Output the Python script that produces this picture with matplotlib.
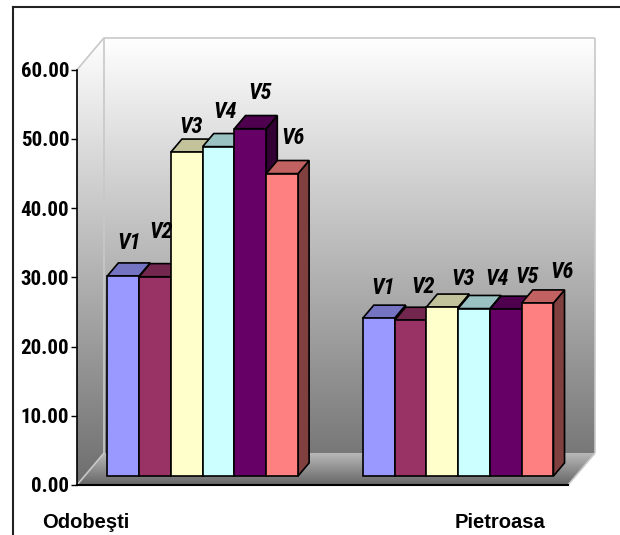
import numpy as np
import matplotlib
matplotlib.use("Agg")
import matplotlib.pyplot as plt
from matplotlib import font_manager
from matplotlib.font_manager import FontProperties
from matplotlib.patches import Polygon
from matplotlib.colors import to_rgb
from matplotlib.lines import Line2D

# ---- data ----
groups = ["Odobeşti", "Pietroasa"]
series = ["V1", "V2", "V3", "V4", "V5", "V6"]
odobesti = [28.9, 28.8, 46.8, 47.6, 50.2, 43.7]
pietroasa = [22.8, 22.5, 24.4, 24.2, 24.1, 25.0]
values = [odobesti, pietroasa]
yticks = [0, 10, 20, 30, 40, 50, 60]

colors = ["#9999FF", "#993366", "#FFFFCC", "#CCFFFF", "#660066", "#FF8080"]

# label nudges (pixels) for the series-name labels above each bar
label_nudge = [
    [(0, 26), (0, 38), (-1, 19), (1, 28), (4.5, 29), (5, 29)],
    [(-1.5, 23.5), (7.5, 27), (15.5, 22), (17.5, 23), (15.5, 26), (18.5, 24)],
]


# ---- fonts: prefer a narrow bold face (Roboto Condensed / Liberation Sans Narrow) ----
def find_narrow(italic):
    best = None
    for f in font_manager.fontManager.ttflist:
        tag = (f.name + " " + str(f.fname)).lower()
        if "liberation" in tag and "narrow" in tag:
            rank = 0
        elif "roboto" in tag and "condensed" in tag:
            rank = 1
        else:
            continue
        w = f.weight if isinstance(f.weight, int) else (700 if "bold" in str(f.weight) else 400)
        if w < 600 or w > 800:
            continue
        is_it = f.style in ("italic", "oblique")
        if is_it != italic:
            continue
        if best is None or rank < best[0] or (rank == best[0] and abs(w - 700) < best[2]):
            best = (rank, f.fname, abs(w - 700))
    return best[1] if best else None


narrow_path = find_narrow(False)
narrow_it_path = find_narrow(True)


def tick_font(size):
    if narrow_path:
        return FontProperties(fname=narrow_path, size=size)
    return FontProperties(family="Liberation Sans", weight="bold", size=size * 0.86)


def label_font(size):
    if narrow_it_path:
        return FontProperties(fname=narrow_it_path, size=size)
    return FontProperties(family="Liberation Sans", weight="bold", style="italic",
                          size=size * 0.86)


# ---- 3D oblique projection settings ----
W, H, DPI = 620, 535, 100
X0_PX, Y0_PX = 77.0, 485.0          # front-left floor corner
PX_PER_CAT = 245.5                  # pixels per category unit
PX_PER_VAL = 6.92                   # pixels per value unit
DX = 27.0 / PX_PER_CAT              # depth offset in x (full depth)
DY = 32.0 / PX_PER_VAL              # depth offset in y (full depth)
ZF, ZB = 0.28, 0.69                 # bar front / back depth
BW = 0.1295                         # bar width (category units)
group_left = [0.0925, 1.133]
YMAX = 60


def proj(x, v, z):
    return (x + z * DX, v + z * DY)


fig = plt.figure(figsize=(W / DPI, H / DPI), dpi=DPI)
ax = fig.add_axes([0, 0, 1, 1])
ax.set_xlim(-X0_PX / PX_PER_CAT, (W - X0_PX) / PX_PER_CAT)
ax.set_ylim((Y0_PX - H) / PX_PER_VAL, Y0_PX / PX_PER_VAL)
ax.patch.set_visible(False)

# ---- walls (side + back) with vertical grey gradient ----
wall_poly = [proj(0, 0, 0), proj(0, YMAX, 0), proj(0, YMAX, 1),
             proj(2, YMAX, 1), proj(2, 0, 1), proj(0, 0, 1)]
wall_patch = Polygon(wall_poly, closed=True, facecolor="none", edgecolor="none")
ax.add_patch(wall_patch)
ytop = YMAX + DY
grad = np.linspace(0, 1, 256).reshape(-1, 1)
vv = grad * ytop
g = (120 + (255 - 120) * (vv - DY) / (ytop - DY)) / 255.0
g = np.clip(g, 0, 1)
img = np.dstack([g, g, g])
im = ax.imshow(img, extent=(0, 2 + DX, 0, ytop), origin="lower",
               aspect="auto", interpolation="bilinear", zorder=0.5)
im.set_clip_path(wall_patch)

# ---- floor ----
floor_poly = [proj(0, 0, 0), proj(2, 0, 0), proj(2, 0, 1), proj(0, 0, 1)]
floor_patch = Polygon(floor_poly, closed=True, facecolor="none", edgecolor="none")
ax.add_patch(floor_patch)
fg = np.linspace(102, 184, 64).reshape(-1, 1) / 255.0
fimg = np.dstack([fg, fg, fg])
fim = ax.imshow(fimg, extent=(0, 2 + DX, 0, DY), origin="lower",
                aspect="auto", interpolation="bilinear", zorder=0.6)
fim.set_clip_path(floor_patch)

# wall / floor edges
edge_c = "#c8c8c8"
for a, b in [((0, YMAX, 0), (0, YMAX, 1)), ((0, YMAX, 1), (2, YMAX, 1)),
             ((2, YMAX, 1), (2, 0, 1)), ((0, YMAX, 1), (0, 0, 1)),
             ((0, 0, 0), (0, 0, 1)), ((2, 0, 0), (2, 0, 1))]:
    p, q = proj(*a), proj(*b)
    ax.plot([p[0], q[0]], [p[1], q[1]], color=edge_c, lw=1.2, zorder=0.8,
            solid_capstyle="butt")


# ---- bars ----
def shade(c, f):
    r, gg, b = to_rgb(c)
    return (r * f, gg * f, b * f)


lab_fp = label_font(16)
for gi, vals in enumerate(values):
    for si, v in enumerate(vals):
        xl = group_left[gi] + si * BW
        xr = xl + BW
        col = colors[si]
        z = 2 + si * 0.01
        side = [proj(xr, 0, ZF), proj(xr, 0, ZB), proj(xr, v, ZB), proj(xr, v, ZF)]
        top = [proj(xl, v, ZF), proj(xr, v, ZF), proj(xr, v, ZB), proj(xl, v, ZB)]
        front = [proj(xl, 0, ZF), proj(xr, 0, ZF), proj(xr, v, ZF), proj(xl, v, ZF)]
        for poly, fc in [(side, shade(col, 0.5)), (top, shade(col, 0.76)), (front, col)]:
            ax.add_patch(Polygon(poly, closed=True, facecolor=fc, edgecolor="black",
                                 lw=1.2, joinstyle="miter", zorder=z))
        xc = (xl + xr) / 2
        anchor = proj(xc, v, (ZF + ZB) / 2)
        ax.annotate(series[si], anchor, xytext=label_nudge[gi][si],
                    textcoords="offset pixels", ha="center", va="center",
                    fontproperties=lab_fp, color="black", zorder=5)

# ---- value axis on the front-left edge ----
for s in ["top", "right"]:
    ax.spines[s].set_visible(False)
ax.spines["left"].set_position(("data", 0))
ax.spines["left"].set_bounds(0, YMAX)
ax.spines["left"].set_linewidth(1.2)
ax.spines["left"].set_zorder(3)
ax.spines["bottom"].set_position(("data", 0))
ax.spines["bottom"].set_bounds(0, 2)
ax.spines["bottom"].set_linewidth(1.5)
ax.spines["bottom"].set_zorder(3)
ax.set_xticks([])
ax.set_yticks(yticks)
ax.set_yticklabels([f"{t:.2f}" for t in yticks])
ax.tick_params(axis="y", direction="out", length=4.3, width=1, pad=1.2)
tfp = tick_font(15)
for lab in ax.get_yticklabels():
    lab.set_fontproperties(tfp)

# ---- category labels ----
label_y = (Y0_PX - 528) / PX_PER_VAL
ax.text((42 - X0_PX) / PX_PER_CAT, label_y, groups[0], ha="left", va="baseline",
        fontsize=14.5, fontweight="bold", family="Liberation Sans")
ax.text((455 - X0_PX) / PX_PER_CAT, label_y, groups[1], ha="left", va="baseline",
        fontsize=14.5, fontweight="bold", family="Liberation Sans")

# ---- chart-area border ----
bx, by = 13 / W, 1 - 7 / H
fig.add_artist(Line2D([bx, bx], [by, -0.05], color="#222222", lw=1.5,
                      transform=fig.transFigure))
fig.add_artist(Line2D([bx, 1.05], [by, by], color="#222222", lw=1.5,
                      transform=fig.transFigure))

fig.savefig("out.png", dpi=DPI)
